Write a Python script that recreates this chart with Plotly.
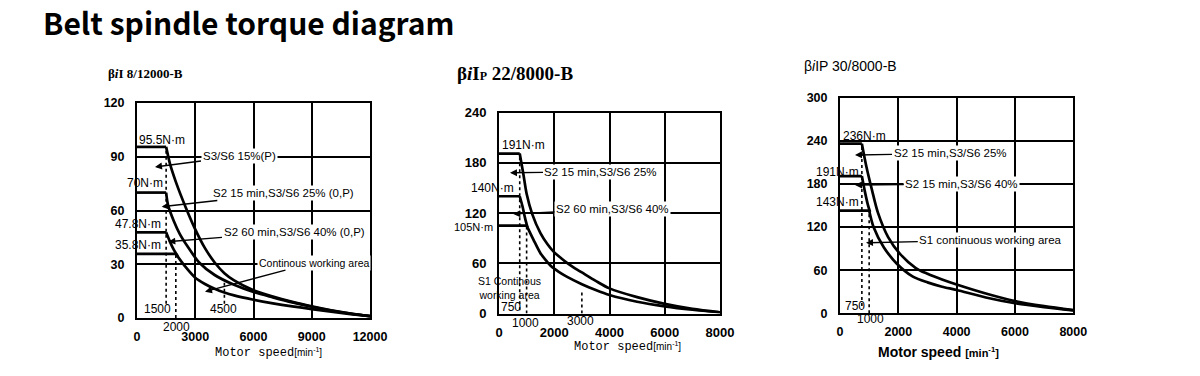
import plotly.graph_objects as go

W, H = 1200, 376

# ---------------- data: chart 1 (βiI 8/12000-B) ----------------
c1_s3_speed = [0, 1500, 1700, 2000, 2500, 3000, 3500, 4000, 4500, 5000, 6000, 7000, 8000, 9000, 10000, 11000, 12000]
c1_s3_torque = [95.5, 95.5, 86, 76, 62, 49.5, 39, 31, 25, 21, 15.5, 12, 9, 6.5, 4.3, 2.5, 1]
c1_s2a_speed = [0, 1500, 1600, 1900, 2200, 2600, 3200, 4000, 5000, 6000, 7000, 8000, 9000, 10000, 11000, 12000]
c1_s2a_torque = [70, 70, 63, 54, 47, 40, 31, 24, 18.5, 14.5, 11.5, 8.7, 6.3, 4.2, 2.4, 1]
c1_s2b_speed = [0, 1500, 1700, 1900, 2100]
c1_s2b_torque = [47.8, 47.8, 42.5, 38, 34.5]
c1_s1_speed = [0, 2000, 2500, 3000, 3500, 4000, 4500, 5000, 6000, 7000, 8000, 9000, 10000, 11000, 12000]
c1_s1_torque = [35.8, 35.8, 28.5, 22.5, 19, 16.3, 14.2, 12.6, 10.2, 8.2, 6.5, 5, 3.5, 2.2, 1]
c1_dot_speed = [1500, 2000, 4500]
c1_dot_lo = [8, 0, 8]
c1_dot_hi = [95.5, 35.8, 21]
c1_xticks = [0, 3000, 6000, 9000, 12000]
c1_xticklabels = ["0", "3000", "6000", "9000", "12000"]
c1_yticks = [0, 30, 60, 90, 120]

# ---------------- data: chart 2 (βiIP 22/8000-B) ----------------
c2_s2a_speed = [0, 750, 880, 1000, 1200, 1500, 1750, 2000, 2250, 2500, 2750, 3000, 3500, 4000, 5000, 6000, 7000, 8000]
c2_s2a_torque = [191, 191, 167, 143, 119, 96, 83, 73, 66, 59.5, 54, 49, 39, 30, 19.5, 11.5, 5.5, 1.5]
c2_s2b_speed = [0, 750, 850, 950, 1030]
c2_s2b_torque = [140, 140, 128, 113, 103]
c2_s1_speed = [0, 1000, 1250, 1500, 1700, 1900, 2150, 2450, 3000, 3500, 4000, 5000, 6000, 7000, 8000]
c2_s1_torque = [105, 105, 88, 72, 63.5, 56, 50, 44, 35, 28, 22, 14, 8.5, 4.5, 1.5]
c2_dot_speed = [750, 1000, 3000]
c2_dot_lo = [4, 0, 0]
c2_dot_hi = [191, 105, 28]
c2_xticks = [0, 2000, 4000, 6000, 8000]
c2_xticklabels = ["0", "2000", "4000", "6000", "8000"]
c2_yticks = [0, 60, 120, 180, 240]

# ---------------- data: chart 3 (βiIP 30/8000-B) ----------------
c3_s2a_speed = [0, 750, 900, 1100, 1300, 1650, 2050, 2600, 3000, 3500, 4000, 5000, 6000, 7000, 8000]
c3_s2a_torque = [236, 236, 205, 171, 140, 106, 83, 63, 55, 47, 40, 27.5, 17, 10, 4.5]
c3_s2b_speed = [0, 750, 850, 950, 1030]
c3_s2b_torque = [191, 191, 170, 152, 141]
c3_s1_speed = [0, 1000, 1150, 1500, 1950, 2500, 3000, 3500, 4000, 5000, 6000, 7000, 8000]
c3_s1_torque = [143, 143, 120, 92, 69, 51, 43, 37, 32.5, 22, 14, 8.5, 4]
c3_dot_speed = [750, 1000]
c3_dot_lo = [10, 0]
c3_dot_hi = [236, 143]
c3_xticks = [0, 2000, 4000, 6000, 8000]
c3_xticklabels = ["0", "2000", "4000", "6000", "8000"]
c3_yticks = [0, 60, 120, 180, 240, 300]

# ---------------- layout geometry (pixels) ----------------
boxes = {
    1: (137, 370, 103, 318),
    2: (499, 720, 112.5, 313.5),
    3: (840, 1073.3, 97.7, 313.3),
}
ranges = {1: (12000, 120), 2: (8000, 240), 3: (8000, 300)}

fig = go.Figure()

def ax_ids(n):
    return ("x" if n == 1 else f"x{n}", "y" if n == 1 else f"y{n}")

def curve(n, xs, ys):
    xa, ya = ax_ids(n)
    # constant-torque part
    fig.add_trace(go.Scatter(x=xs[:2], y=ys[:2], mode="lines",
                             line=dict(color="black", width=2.7),
                             xaxis=xa, yaxis=ya, hoverinfo="skip"))
    # falling part, smoothed
    fig.add_trace(go.Scatter(x=xs[1:], y=ys[1:], mode="lines",
                             line=dict(color="black", width=2.7, shape="spline", smoothing=0.8),
                             xaxis=xa, yaxis=ya, hoverinfo="skip"))

def dots(n, sp, lo, hi):
    xa, ya = ax_ids(n)
    xs, ys = [], []
    for s, a, b in zip(sp, lo, hi):
        xs += [s, s, None]
        ys += [a, b, None]
    fig.add_trace(go.Scatter(x=xs, y=ys, mode="lines",
                             line=dict(color="black", width=1.6, dash="dot"),
                             xaxis=xa, yaxis=ya, hoverinfo="skip"))

curve(1, c1_s3_speed, c1_s3_torque)
curve(1, c1_s2a_speed, c1_s2a_torque)
curve(1, c1_s2b_speed, c1_s2b_torque)
curve(1, c1_s1_speed, c1_s1_torque)
dots(1, c1_dot_speed, c1_dot_lo, c1_dot_hi)

curve(2, c2_s2a_speed, c2_s2a_torque)
curve(2, c2_s2b_speed, c2_s2b_torque)
curve(2, c2_s1_speed, c2_s1_torque)
dots(2, c2_dot_speed, c2_dot_lo, c2_dot_hi)

curve(3, c3_s2a_speed, c3_s2a_torque)
curve(3, c3_s2b_speed, c3_s2b_torque)
curve(3, c3_s1_speed, c3_s1_torque)
dots(3, c3_dot_speed, c3_dot_lo, c3_dot_hi)

SANS = "Liberation Sans, Arial, sans-serif"
SERIF = "Liberation Serif, Times New Roman, serif"
MONO = "Liberation Mono, Courier New, monospace"

def axes(n, xt, xtl, yt, fsize):
    x0, x1, ytop, ybot = boxes[n]
    xmax, ymax = ranges[n]
    xa_id, ya_id = ax_ids(n)
    common = dict(showgrid=True, gridcolor="black", gridwidth=1.5,
                  showline=True, linecolor="black", linewidth=2, mirror=True,
                  zeroline=False, ticks="", automargin=False, fixedrange=True,
                  tickfont=dict(family=SANS, size=fsize, color="black", weight="bold"))
    xa = dict(domain=[x0 / W, x1 / W], range=[0, xmax], tickvals=xt, ticktext=xtl,
              ticklabelstandoff=6, anchor=ya_id, **common)
    ya = dict(domain=[(H - ybot) / H, (H - ytop) / H], range=[0, ymax], tickvals=yt,
              ticktext=[str(v) for v in yt], ticklabelstandoff=8, anchor=xa_id, **common)
    return xa, ya

xa1, ya1 = axes(1, c1_xticks, c1_xticklabels, c1_yticks, 12.5)
xa2, ya2 = axes(2, c2_xticks, c2_xticklabels, c2_yticks, 13)
xa3, ya3 = axes(3, c3_xticks, c3_xticklabels, c3_yticks, 12.5)

ann = []

def to_paper(n, x, y):
    x0, x1, ytop, ybot = boxes[n]
    xmax, ymax = ranges[n]
    px = x0 + (x1 - x0) * x / xmax
    py = ybot - (ybot - ytop) * y / ymax
    return px / W, 1 - py / H

def label(n, x, y, text, size=12, xanchor="center", family=SANS, weight="normal"):
    xmax, ymax = ranges[n]
    xa, ya = ax_ids(n)
    # texts that sit outside the axis ranges are placed in paper coordinates
    if 0 <= x <= xmax and 0 <= y <= ymax:
        xr, yr, xx, yy = xa, ya, x, y
    else:
        xx, yy = to_paper(n, x, y)
        xr, yr = "paper", "paper"
    ann.append(dict(x=xx, y=yy, xref=xr, yref=yr,
                    text=text, showarrow=False, xanchor=xanchor, yanchor="middle",
                    font=dict(family=family, size=size, color="black", weight=weight)))

def arrow(n, x, y, ax, ay, text, size=11.5):
    xa, ya = ax_ids(n)
    ann.append(dict(x=x, y=y, ax=ax, ay=ay,
                    xref=xa, yref=ya, axref=xa, ayref=ya,
                    text=text, showarrow=True, arrowhead=2, arrowsize=1, arrowwidth=1.4,
                    arrowcolor="black", bgcolor="white", borderpad=1,
                    font=dict(family=SANS, size=size, color="black")))

# chart 1 texts
label(1, 0, 99.5, "95.5N·m", xanchor="left")
label(1, 1450, 75.3, "70N·m", xanchor="right")
label(1, 1350, 52.3, "47.8N·m", xanchor="right")
label(1, 1350, 40.7, "35.8N·m", xanchor="right")
label(1, 1056, 4.9, "1500")
label(1, 4430, 4.9, "4500")
label(1, 2010, -4.9, "2000")
arrow(1, 927, 84.3, 5253, 90.4, "S3/S6 15%(P)")
arrow(1, 1272, 62.1, 7545, 69.8, "S2 15 min,S3/S6 25% (0,P)")
arrow(1, 1612, 42.6, 8086, 48.2, "S2 60 min,S3/S6 40% (0,P)")
arrow(1, 3502, 14.7, 9090, 30.9, "Continous working area", size=10.5)

# chart 2 texts
label(2, 36, 201, "191N·m", xanchor="left")
label(2, 615, 149.9, "140N·m", xanchor="right")
label(2, -145, 103.5, "105N·m", size=11, xanchor="right")
label(2, 362, 30.4, "S1 Continous<br>working area", size=10.5)
label(2, 452, 7.8, "750")
label(2, 977, -11, "1000")
label(2, 2968, -8.6, "3000")
arrow(2, 398, 168, 3692, 169.3, "S2 15 min,S3/S6 25%")
arrow(2, 518, 118.8, 4109, 124.8, "S2 60 min,S3/S6 40%")

# chart 3 texts
label(3, 40, 246.7, "236N·m", xanchor="left")
label(3, 720, 196, "191N·m", xanchor="right")
label(3, 720, 155.3, "143N·m", xanchor="right")
label(3, 531, 10.2, "750")
label(3, 1046, -8.3, "1000")
arrow(3, 514, 220.3, 3772, 222.6, "S2 15 min,S3/S6 25%")
arrow(3, 514, 178.5, 4173, 179.9, "S2 15 min,S3/S6 40%")
arrow(3, 892, 98.2, 5171, 102, "S1 continuous working area")

def paper(xpx, ypx, text, size, family, weight="normal", xanchor="center"):
    ann.append(dict(x=xpx / W, y=1 - ypx / H, xref="paper", yref="paper",
                    text=text, showarrow=False, xanchor=xanchor, yanchor="middle",
                    font=dict(family=family, size=size, color="black", weight=weight)))

# main title and panel titles
paper(41, 22, "Belt spindle torque diagram", 30, "Noto Sans CJK SC, Noto Sans, sans-serif", "bold", "left")
paper(106, 73, "β<i>i</i>I 8/12000-B", 13, SERIF, "bold", "left")
paper(455, 73, "β<i>i</i>I<span style='font-size:12px'>P</span> 22/8000-B", 19, SERIF, "bold", "left")
paper(802, 66, "β<i>i</i>IP 30/8000-B", 14, SANS, "normal", "left")

# x-axis titles
paper(268, 353, "Motor speed<span style='font-family:Liberation Sans;font-size:10px'>[min<sup>-1</sup>]</span>", 12, MONO)
paper(627, 347, "Motor speed<span style='font-family:Liberation Sans;font-size:10px'>[min<sup>-1</sup>]</span>", 12, MONO)
paper(938, 352, "Motor speed <span style='font-size:11px'>[min<sup>-1</sup>]</span>", 14, SANS, "bold")

fig.update_layout(
    width=W, height=H, margin=dict(l=0, r=0, t=0, b=0, autoexpand=False),
    paper_bgcolor="white", plot_bgcolor="white", showlegend=False,
    xaxis=xa1, yaxis=ya1, xaxis2=xa2, yaxis2=ya2, xaxis3=xa3, yaxis3=ya3,
    annotations=ann,
)

fig.write_html("out.html", config={"displayModeBar": False},
               post_script="document.body.style.margin='0';document.body.style.overflow='hidden';")
